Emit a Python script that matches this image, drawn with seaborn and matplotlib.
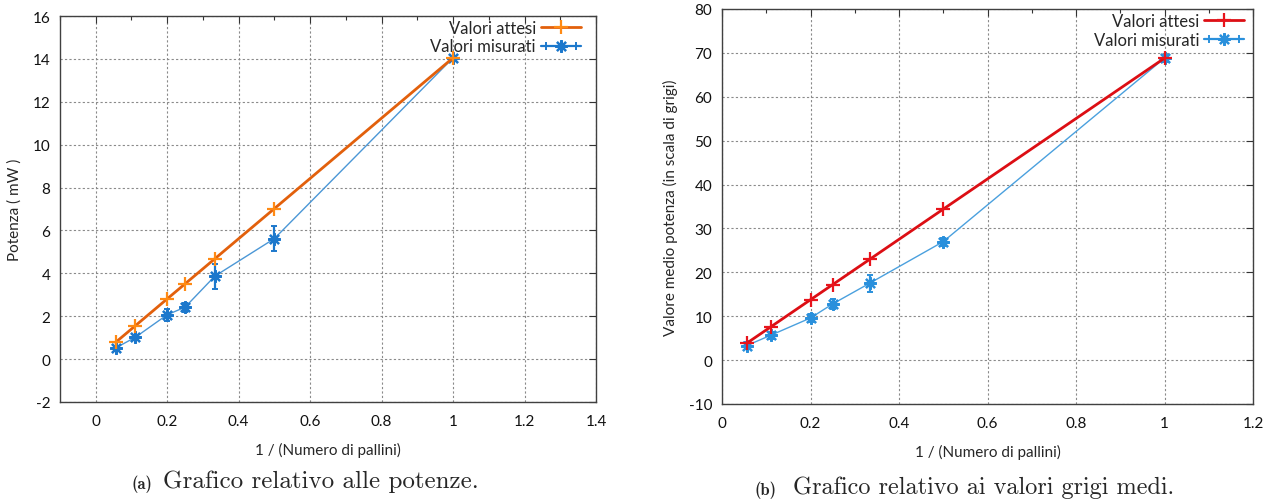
import numpy as np
import pandas as pd
import seaborn as sns
import matplotlib
matplotlib.use("Agg")
import matplotlib.pyplot as plt
from matplotlib.lines import Line2D
from matplotlib.legend_handler import HandlerLine2D, HandlerTuple
from matplotlib.ticker import MultipleLocator, FuncFormatter

# 1 / (number of dots)
inv_dots = [1 / 18, 1 / 9, 1 / 5, 1 / 4, 1 / 3, 1 / 2, 1.0]

# (a) power, mW
power_expected = [0.78, 1.56, 2.81, 3.51, 4.68, 7.02, 14.05]
power_measured = [0.52, 1.02, 2.07, 2.42, 3.87, 5.62, 14.05]
power_err = [0.10, 0.10, 0.27, 0.20, 0.58, 0.60, 0.10]

# (b) mean grey value
grey_expected = [3.82, 7.64, 13.76, 17.20, 22.93, 34.40, 68.80]
grey_measured = [3.3, 5.7, 9.6, 12.8, 17.5, 27.0, 68.8]
grey_err = [0.8, 0.8, 1.0, 1.2, 2.0, 0.9, 0.8]

sns.set_theme(style="white")
plt.rcParams["font.family"] = ["Lato", "DejaVu Sans"]
plt.rcParams["xtick.direction"] = "in"
plt.rcParams["ytick.direction"] = "in"

W, H = 1278, 502
fig = plt.figure(figsize=(W / 100, H / 100), dpi=100)


def px_axes(x0, y0, x1, y1):
    return fig.add_axes([x0 / W, 1 - y1 / H, (x1 - x0) / W, (y1 - y0) / H])


ax_a = px_axes(60, 17, 596, 403)
ax_b = px_axes(722, 10, 1253, 405)


def draw(ax, expected, measured, err, line_c, mark_c, blue_line, blue_mark,
         xlim, ylim, ystep, ylabel, leg_gap):
    df = pd.DataFrame({"x": inv_dots, "exp": expected, "mis": measured})
    sns.lineplot(data=df, x="x", y="mis", ax=ax, color=blue_line, lw=1.0,
                 zorder=3, legend=False)
    ax.errorbar(inv_dots, measured, yerr=err, fmt="none", ecolor=blue_mark,
                elinewidth=1.6, capsize=2.5, capthick=1.4, zorder=4)
    sns.lineplot(data=df, x="x", y="mis", ax=ax, color=blue_mark, lw=0,
                 marker=(8, 2, 0), markersize=9, markeredgewidth=1.6,
                 markeredgecolor=blue_mark, zorder=5, legend=False)
    sns.lineplot(data=df, x="x", y="exp", ax=ax, color=line_c, lw=2.0,
                 zorder=6, legend=False)
    sns.lineplot(data=df, x="x", y="exp", ax=ax, color=mark_c, lw=0,
                 marker="+", markersize=10, markeredgewidth=1.6,
                 markeredgecolor=mark_c, zorder=7, legend=False)

    ax.set_xlim(*xlim)
    ax.set_ylim(*ylim)
    ax.xaxis.set_major_locator(MultipleLocator(0.2))
    ax.xaxis.set_minor_locator(MultipleLocator(0.1))
    ax.yaxis.set_major_locator(MultipleLocator(ystep))
    fmt = FuncFormatter(lambda v, p: f"{v:g}")
    ax.xaxis.set_major_formatter(fmt)
    ax.yaxis.set_major_formatter(fmt)
    ax.tick_params(axis="both", which="both", top=True, right=True,
                   labelsize=11, colors="#333333", labelcolor="#111111")
    ax.tick_params(axis="x", pad=9)
    ax.tick_params(axis="y", pad=7)
    ax.tick_params(which="major", length=5, width=0.8)
    ax.tick_params(which="minor", length=3, width=0.8)
    ax.grid(True, which="major", color="#8a8a8a", linestyle=(0, (2, 2)),
            linewidth=0.8)
    for s in ax.spines.values():
        s.set_color("#404040")
        s.set_linewidth(1.0)
    ax.set_xlabel("1 / (Numero di pallini)", fontsize=11, labelpad=10)
    ax.set_ylabel(ylabel, fontsize=11, labelpad=8)

    h_exp = Line2D([], [], color=line_c, lw=2.0, marker="+", markersize=10,
                   markeredgewidth=1.6, markeredgecolor=mark_c)
    h_mis = Line2D([], [], color=blue_mark, lw=1.6, marker=(8, 2, 0),
                   markersize=9, markeredgewidth=1.6)
    h_cap = Line2D([], [], color=blue_mark, lw=0, marker="|", markersize=6,
                   markeredgewidth=1.4)
    bb = ax.get_window_extent()
    ax.legend([h_exp, (h_mis, h_cap)], ["Valori attesi", "Valori misurati"],
              loc="upper right",
              bbox_to_anchor=(1 - leg_gap / bb.width, 1 - 4 / bb.height),
              frameon=False, markerfirst=False, numpoints=1,
              handlelength=2.4, handletextpad=0.3, labelspacing=0.15,
              borderpad=0, borderaxespad=0, fontsize=12,
              handler_map={tuple: HandlerTuple(ndivide=1, pad=0),
                           h_cap: HandlerLine2D(numpoints=2)})


draw(ax_a, power_expected, power_measured, power_err,
     "#e2600c", "#ff8a14", "#4b97d6", "#1c78cc",
     (-0.1, 1.4), (-2, 16), 2, "Potenza ( mW )", 15)
draw(ax_b, grey_expected, grey_measured, grey_err,
     "#dc0e14", "#e8141c", "#4aa0de", "#2a90dc",
     (0.0, 1.2), (-10, 80), 10, "Valore medio potenza (in scala di grigi)", 9)

# sub-figure captions
fig.text(142 / W, 1 - 484 / H, "(a)", family="cmb10", fontsize=12,
         ha="center", va="center")
fig.text(163 / W, 1 - 482 / H, "Grafico relativo alle potenze.",
         family="cmr10", fontsize=18, ha="left", va="center")
fig.text(766 / W, 1 - 490 / H, "(b)", family="cmb10", fontsize=12,
         ha="center", va="center")
fig.text(793 / W, 1 - 488 / H, "Grafico relativo ai valori grigi medi.",
         family="cmr10", fontsize=17.5, ha="left", va="center")

fig.savefig("out.png", dpi=100)
